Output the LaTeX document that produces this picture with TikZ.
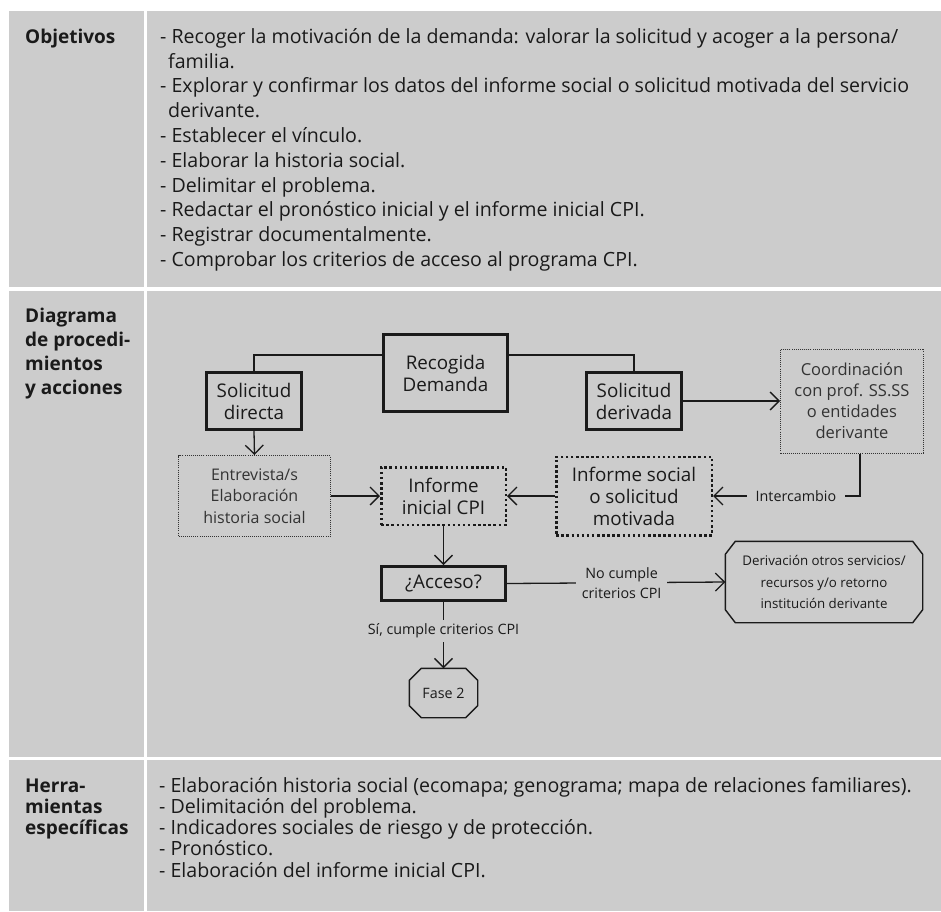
\documentclass[tikz,border=0pt]{standalone}
\usepackage{fontspec}
\setmainfont{Open Sans}
\usetikzlibrary{arrows.meta}
\definecolor{cellgray}{HTML}{CCCCCC}
\definecolor{ink}{HTML}{1A1A1A}
\definecolor{dotink}{HTML}{333333}
\tikzset{
  cell/.style={fill=cellgray},
  hdr/.style={anchor=base west, inner sep=0pt, text=ink, font=\fontsize{19}{22}\selectfont\bfseries},
  txt/.style={anchor=base west, inner sep=0pt, text=ink, font=\fontsize{19.6}{22}\selectfont},
  boxtext/.style={align=center, inner sep=0pt, text=ink, font=\fontsize{18.8}{22}\selectfont},
  thickbox/.style={boxtext, draw=ink, line width=3pt},
  dotthick/.style={boxtext, draw=ink, line width=2.5pt, dash pattern=on 2.5pt off 2.6pt},
  dotthin/.style={boxtext, draw=dotink, line width=1pt, dash pattern=on 1pt off 1.1pt, text=dotink, font=\fontsize{16}{21.5}\selectfont},
  octbox/.style={boxtext},
  octline/.style={draw=ink, line width=1.4pt, line join=miter},
  conn/.style={draw=ink, line width=1.3pt},
  arr/.style={conn, -{Straight Barb[length=9pt,width=18pt,line width=1.3pt]}},
  lbl/.style={fill=cellgray, inner sep=0pt, align=center, text=ink, font=\fontsize{14.3}{20}\selectfont},
}
\begin{document}
\begin{tikzpicture}[x=1pt,y=-1pt]
\useasboundingbox (0,0) rectangle (941,911);
\fill[white] (0,0) rectangle (941,911);
% table cells
\fill[cell] (9,11) rectangle (144,287);
\fill[cell] (147,11) rectangle (941,287);
\fill[cell] (9,291) rectangle (144,757);
\fill[cell] (147,291) rectangle (941,757);
\fill[cell] (9,760) rectangle (144,911);
\fill[cell] (147,760) rectangle (941,911);

% headers
\node[hdr] (h1) at (25,43.3) {Objetivos};
\node[hdr] (h2a) at (25,322) {Diagrama};
\node[hdr] (h2b) at (25,346) {de procedi-};
\node[hdr] (h2c) at (25,370) {mientos};
\node[hdr] (h2d) at (25,394) {y acciones};
\node[hdr] (h3a) at (25,792) {Herra-};
\node[hdr] (h3b) at (25,813.3) {mientas};
\node[hdr] (h3c) at (25,834.6) {específicas};

% objetivos
\node[txt] (o1) at (160,43.3) {- Recoger la motivación de la demanda: valorar la solicitud y acoger a la persona/};
\node[txt] (o2) at (168,68.1) {familia.};
\node[txt] (o3) at (160,92.9) {- Explorar y confirmar los datos del informe social o solicitud motivada del servicio};
\node[txt] (o4) at (168,117.7) {derivante.};
\node[txt] (o5) at (160,142.5) {- Establecer el vínculo.};
\node[txt] (o6) at (160,167.3) {- Elaborar la historia social.};
\node[txt] (o7) at (160,192.1) {- Delimitar el problema.};
\node[txt] (o8) at (160,216.9) {- Redactar el pronóstico inicial y el informe inicial CPI.};
\node[txt] (o9) at (160,241.7) {- Registrar documentalmente.};
\node[txt] (o10) at (160,266.5) {- Comprobar los criterios de acceso al programa CPI.};

% herramientas
\node[txt] (t1) at (159,792) {- Elaboración historia social (ecomapa; genograma; mapa de relaciones familiares).};
\node[txt] (t2) at (159,813.3) {- Delimitación del problema.};
\node[txt] (t3) at (159,834.6) {- Indicadores sociales de riesgo y de protección.};
\node[txt] (t4) at (159,855.9) {- Pronóstico.};
\node[txt] (t5) at (159,877.2) {- Elaboración del informe inicial CPI.};

% diagram nodes
\node[thickbox, minimum width=124pt, minimum height=77pt] (rec) at (445.5,373) {Recogida\\Demanda};
\node[thickbox, minimum width=95pt, minimum height=57pt] (sd) at (254,401) {Solicitud\\directa};
\node[thickbox, minimum width=95pt, minimum height=57pt] (sdv) at (634,401) {Solicitud\\derivada};
\node[dotthin, minimum width=152pt, minimum height=81pt] (ent) at (254.5,496) {Entrevista/s\\Elaboración\\historia social};
\node[dotthick, minimum width=124.5pt, minimum height=57.5pt] (ini) at (443.5,496) {Informe\\inicial CPI};
\node[dotthick, minimum width=155.5pt, minimum height=78.5pt] (inf) at (634,496) {Informe social\\o solicitud\\motivada};
\node[dotthin, minimum width=143pt, minimum height=104pt, font=\fontsize{16.5}{21}\selectfont] (coo) at (852,401) {Coordinación\\con prof. SS.SS\\o entidades\\derivante};
\node[thickbox, minimum width=124pt, minimum height=34pt] (acc) at (443.5,583.5) {¿Acceso?};
\node[octbox, minimum width=197pt, minimum height=81pt, font=\fontsize{13.3}{21.5}\selectfont] (der) at (824,582) {Derivación otros servicios/\\recursos y/o retorno\\institución derivante};
\node[octbox, minimum width=68pt, minimum height=49pt, font=\fontsize{14.3}{20}\selectfont] (fase) at (443.5,693) {Fase 2};

% octagon outlines
\draw[octline] ([xshift=10pt]der.north west) -- ([xshift=-10pt]der.north east)
  -- ([yshift=-13pt]der.north east) -- ([yshift=13pt]der.south east)
  -- ([xshift=-10pt]der.south east) -- ([xshift=10pt]der.south west)
  -- ([yshift=13pt]der.south west) -- ([yshift=-13pt]der.north west) -- cycle;
\draw[octline] ([xshift=12pt]fase.north west) -- ([xshift=-12pt]fase.north east)
  -- ([yshift=-12pt]fase.north east) -- ([yshift=12pt]fase.south east)
  -- ([xshift=-12pt]fase.south east) -- ([xshift=12pt]fase.south west)
  -- ([yshift=12pt]fase.south west) -- ([yshift=-12pt]fase.north west) -- cycle;

% connectors
\draw[conn] ([yshift=18pt]rec.west) -| (sd.north);
\draw[conn] ([yshift=18pt]rec.east) -| (sdv.north);
\draw[arr] (sd.south) -- (ent.north);
\draw[arr] (ent.east) -- (ini.west);
\draw[arr] (inf.west) -- (ini.east);
\draw[arr] (sdv.east) -- (coo.west);
\draw[arr] ([xshift=8pt]coo.south) |- (inf.east) node[lbl, pos=0.718, inner xsep=9pt] (li) {Intercambio};
\draw[arr] (ini.south) -- (acc.north);
\draw[arr] (acc.east) -- (der.west) node[lbl, pos=0.525, inner xsep=6pt] (ln) {No cumple\\criterios CPI};
\draw[arr] (acc.south) -- (fase.north) node[lbl, pos=0.44, inner ysep=4pt] (ls) {Sí, cumple criterios CPI};
\end{tikzpicture}
\end{document}
